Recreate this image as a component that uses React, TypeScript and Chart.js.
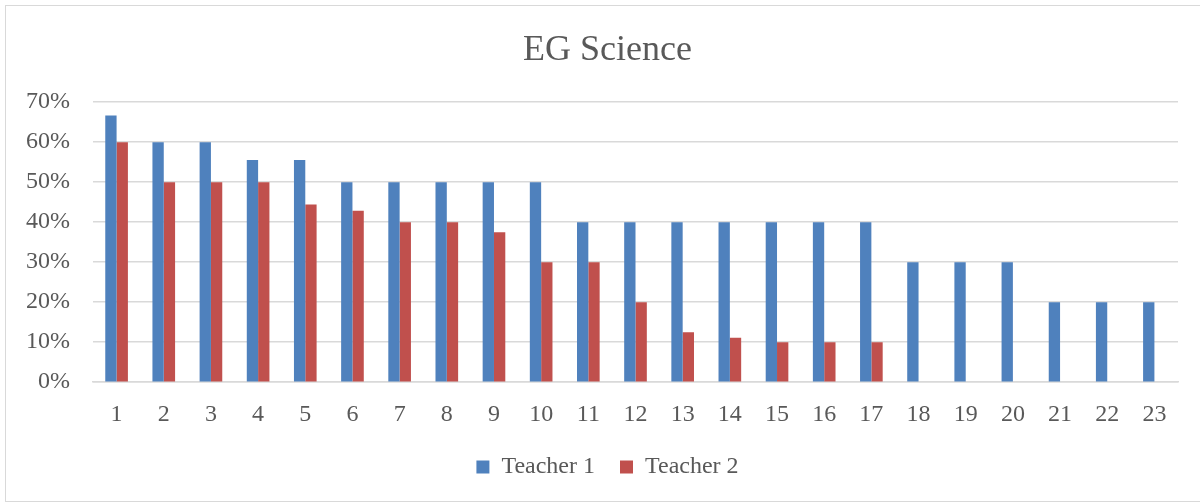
import React, { useEffect, useRef } from "react";
import { Chart, registerables } from "chart.js";

Chart.register(...registerables);

const categories = ["1","2","3","4","5","6","7","8","9","10","11","12","13","14","15","16","17","18","19","20","21","22","23"];
const teacher1 = [66.67, 60, 60, 55.56, 55.56, 50, 50, 50, 50, 50, 40, 40, 40, 40, 40, 40, 40, 30, 30, 30, 20, 20, 20];
const teacher2 = [60, 50, 50, 50, 44.44, 42.86, 40, 40, 37.5, 30, 30, 20, 12.5, 11.11, 10, 10, 10, null, null, null, null, null, null];
const seriesNames = ["Teacher 1", "Teacher 2"];
const titleText = "EG Science";

const FONT = "'Liberation Serif', 'DejaVu Serif', serif";
const TEXT = "#595959";

export default function App() {
  const ref = useRef<HTMLCanvasElement | null>(null);
  useEffect(() => {
    document.body.style.margin = "0";
    const ctx = ref.current!;
    const chart = new Chart(ctx, {
      type: "bar",
      data: {
        labels: categories,
        datasets: [
          { label: seriesNames[0], data: teacher1, backgroundColor: "#4F81BD", borderWidth: 0 },
          { label: seriesNames[1], data: teacher2 as any, backgroundColor: "#C0504D", borderWidth: 0 },
        ],
      },
      options: {
        animation: false,
        responsive: false,
        maintainAspectRatio: false,
        layout: { padding: { left: 15, right: 0, top: 0, bottom: 13 } },
        datasets: { bar: { categoryPercentage: 0.48, barPercentage: 1 } } as any,
        plugins: {
          title: {
            display: true,
            text: titleText,
            color: TEXT,
            font: { family: FONT, size: 36, weight: "normal" as any, lineHeight: 1.2 },
            padding: { top: 29, bottom: 30 },
          },
          legend: {
            position: "bottom",
            labels: {
              color: TEXT,
              font: { family: FONT, size: 24, lineHeight: 1.2 },
              boxWidth: 13,
              boxHeight: 13,
              padding: 25,
            },
          },
          tooltip: { enabled: false },
        },
        scales: {
          x: {
            grid: { display: false, drawTicks: false },
            border: { display: true, color: "#d9d9d9", width: 1.5 },
            ticks: { color: TEXT, font: { family: FONT, size: 24, lineHeight: 1.2 }, padding: 18, maxRotation: 0, autoSkip: false },
            afterFit: (scale: any) => { scale.paddingRight = 22; scale.height = scale.height - 17; },
          },
          y: {
            min: 0,
            max: 70,
            grid: { color: "#d9d9d9", lineWidth: 1.5, drawTicks: false },
            border: { display: false },
            ticks: {
              stepSize: 10,
              color: TEXT,
              font: { family: FONT, size: 24, lineHeight: 1.2 },
              padding: 23,
              callback: (v: any) => `${v}%`,
            },
            afterFit: (scale: any) => { scale.width = 78; },
          },
        },
      },
    });
    return () => chart.destroy();
  }, []);
  return (
    <div style={{ position: "fixed", left: 0, top: 0, width: 1200, height: 502, overflow: "hidden", background: "#fff" }}>
      <div style={{ position: "absolute", left: 5, top: 5, width: 1210, height: 495, border: "1px solid #d9d9d9" }} />
      <canvas ref={ref} width={1200} height={502} style={{ position: "absolute", left: 0, top: 0, width: 1200, height: 502 }} />
    </div>
  );
}
